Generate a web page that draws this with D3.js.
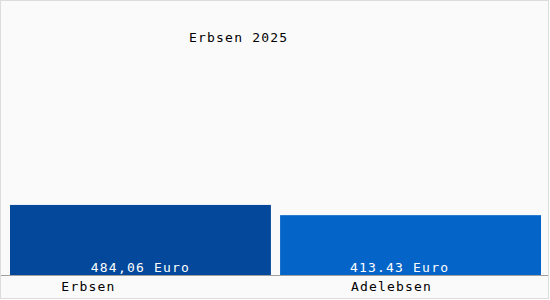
<!DOCTYPE html>
<html>
<head>
<meta charset="utf-8">
<script src="https://cdn.jsdelivr.net/npm/d3@7"></script>
<style>
  html, body { margin: 0; padding: 0; background: #fff; }
  svg text { font-family: "DejaVu Sans Mono", monospace; font-size: 13px; letter-spacing: 1.2px; }
</style>
</head>
<body>
<div class="chart"></div>
<script>
// data
const categories = ["Erbsen", "Adelebsen"];
const values = [484.06, 413.43];
const valueLabels = ["484,06 Euro", "413.43 Euro"];
const colors = ["#03489a", "#0564c7"];
const title = "Erbsen 2025";

const width = 550;
const height = 300;
const baseY = 275;

const svg = d3.select('.chart')
    .append('svg')
    .attr('width', width)
    .attr('height', height);

// background + frame
svg.append('rect')
    .attr('x', 0.5).attr('y', 0.5)
    .attr('width', width - 2).attr('height', height - 2)
    .attr('fill', '#fafafa')
    .attr('stroke', '#dcdcdc');

// scales
const xScale = d3.scaleBand()
    .domain(categories)
    .range([10, 541])
    .paddingInner(0.034);

const yScale = d3.scaleLinear()
    .domain([0, 1900])
    .range([baseY, 0]);

// bars
svg.selectAll('.bar')
    .data(categories)
    .enter()
    .append('rect')
    .attr('class', 'bar')
    .attr('x', d => xScale(d))
    .attr('width', xScale.bandwidth())
    .attr('y', (d, i) => yScale(values[i]))
    .attr('height', (d, i) => baseY - yScale(values[i]))
    .attr('fill', (d, i) => colors[i]);

// baseline
svg.append('line')
    .attr('x1', 1).attr('x2', 548)
    .attr('y1', baseY + 0.5).attr('y2', baseY + 0.5)
    .attr('stroke', '#a0a0a0');

// value labels inside bars (label centres are shifted a bit like the original)
const valueShift = [0, -11];
svg.selectAll('.val')
    .data(valueLabels)
    .enter()
    .append('text')
    .attr('class', 'val')
    .attr('x', (d, i) => xScale(categories[i]) + xScale.bandwidth() / 2 + valueShift[i])
    .attr('y', 272)
    .attr('text-anchor', 'middle')
    .attr('fill', '#ffffff')
    .text(d => d);

// category labels under the baseline
const catShift = [-52, -19];
svg.selectAll('.cat')
    .data(categories)
    .enter()
    .append('text')
    .attr('class', 'cat')
    .attr('x', (d, i) => xScale(d) + xScale.bandwidth() / 2 + catShift[i])
    .attr('y', 291)
    .attr('text-anchor', 'middle')
    .attr('fill', '#000')
    .text(d => d);

// title
svg.append('text')
    .attr('x', 189)
    .attr('y', 42)
    .attr('fill', '#000')
    .text(title);
</script>
</body>
</html>
